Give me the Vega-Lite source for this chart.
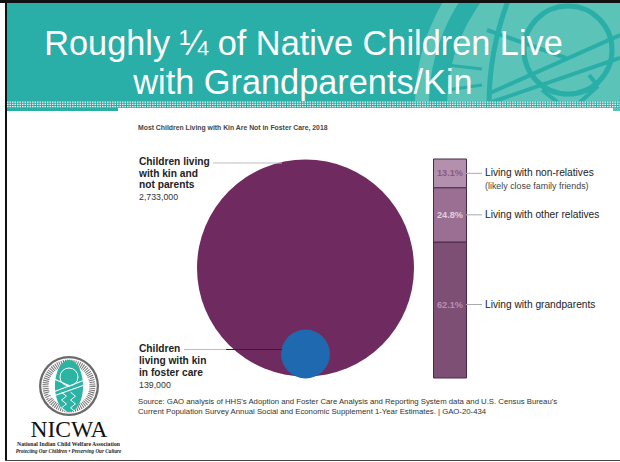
{"$schema":"https://vega.github.io/schema/vega-lite/v6.json","width":620,"height":462,"padding":0,"autosize":{"type":"none"},"background":"white","config":{"view":{"stroke":null},"axis":{"disable":true},"legend":{"disable":true}},"resolve":{"scale":{"y":"independent"}},"layer":[
{"data":{"values":[{}]},"layer":[
{"mark":{"type":"rect","color":"#29aea8"},"encoding":{"x":{"datum":7,"scale":{"domain":[0,620],"nice":false,"zero":false}},"x2":{"datum":620},"y":{"datum":3,"scale":{"domain":[462,0],"nice":false,"zero":false}},"y2":{"datum":111}}},
{"mark":{"type":"point","filled":true,"shape":"circle","color":"#5cc3b9","opacity":1},"encoding":{"x":{"datum":620},"y":{"datum":105},"size":{"value":168100}}},
{"mark":{"type":"point","filled":true,"shape":"circle","color":"#29aea8","opacity":1},"encoding":{"x":{"datum":620},"y":{"datum":105},"size":{"value":145924}}},
{"mark":{"type":"point","filled":true,"shape":"circle","color":"#5cc3b9","opacity":1},"encoding":{"x":{"datum":620},"y":{"datum":105},"size":{"value":119716}}},
{"mark":{"type":"point","filled":false,"shape":"circle","stroke":"#29aea8","strokeWidth":5,"opacity":1},"encoding":{"x":{"datum":785},"y":{"datum":105},"size":{"value":350464}}},
{"mark":{"type":"point","filled":false,"shape":"circle","stroke":"#29aea8","strokeWidth":5,"opacity":1},"encoding":{"x":{"datum":568},"y":{"datum":50},"size":{"value":7744}}},
{"mark":{"type":"rule","color":"#29aea8","strokeWidth":4},"encoding":{"x":{"datum":490},"x2":{"datum":620},"y":{"datum":93},"y2":{"datum":35}}},
{"mark":{"type":"rule","color":"#29aea8","strokeWidth":4},"encoding":{"x":{"datum":492},"x2":{"datum":620},"y":{"datum":102},"y2":{"datum":58}}},
{"mark":{"type":"rule","color":"#29aea8","strokeWidth":4},"encoding":{"x":{"datum":487},"x2":{"datum":566},"y":{"datum":30},"y2":{"datum":58}}},
{"mark":{"type":"rule","color":"#29aea8","strokeWidth":4},"encoding":{"x":{"datum":589},"x2":{"datum":598},"y":{"datum":75},"y2":{"datum":86}}},
{"mark":{"type":"rule","color":"#29aea8","strokeWidth":4},"encoding":{"x":{"datum":598},"x2":{"datum":578},"y":{"datum":86},"y2":{"datum":104}}},
{"mark":{"type":"rule","color":"#29aea8","strokeWidth":4},"encoding":{"x":{"datum":542},"x2":{"datum":560},"y":{"datum":90},"y2":{"datum":104}}},
{"mark":{"type":"rule","color":"#29aea8","strokeWidth":3},"encoding":{"x":{"datum":447},"x2":{"datum":482},"y":{"datum":65},"y2":{"datum":69}}},
{"mark":{"type":"rule","color":"#29aea8","strokeWidth":3},"encoding":{"x":{"datum":447},"x2":{"datum":482},"y":{"datum":90},"y2":{"datum":85}}},
{"mark":{"type":"rect","color":"white"},"encoding":{"x":{"datum":7},"x2":{"datum":620},"y":{"datum":108},"y2":{"datum":462}}},
{"mark":{"type":"rect","color":"#29aea8"},"encoding":{"x":{"datum":7},"x2":{"datum":118},"y":{"datum":108},"y2":{"datum":111}}},
{"mark":{"type":"rect","color":"#5cc3b9"},"encoding":{"x":{"datum":613},"x2":{"datum":620},"y":{"datum":108},"y2":{"datum":111}}},
{"mark":{"type":"rect","color":"#29aea8","opacity":0.75},"encoding":{"x":{"datum":7},"x2":{"datum":620},"y":{"datum":101},"y2":{"datum":108}}},
{"mark":{"type":"rule","color":"#e6f5f4","strokeWidth":1.2,"strokeDash":[1.5,1]},"encoding":{"x":{"datum":7},"x2":{"datum":620},"y":{"datum":102.2}}},
{"mark":{"type":"rule","color":"#e6f5f4","strokeWidth":1.2,"strokeDash":[1.5,1]},"encoding":{"x":{"datum":7},"x2":{"datum":620},"y":{"datum":104.4}}},
{"mark":{"type":"rule","color":"#e6f5f4","strokeWidth":1.2,"strokeDash":[1.5,1]},"encoding":{"x":{"datum":7},"x2":{"datum":620},"y":{"datum":106.6}}},
{"mark":{"type":"rect","color":"#111111"},"encoding":{"x":{"datum":0},"x2":{"datum":620},"y":{"datum":0},"y2":{"datum":3}}},
{"mark":{"type":"rect","color":"#111111"},"encoding":{"x":{"datum":5},"x2":{"datum":7},"y":{"datum":0},"y2":{"datum":461}}},
{"mark":{"type":"rect","color":"#444444"},"encoding":{"x":{"datum":5},"x2":{"datum":620},"y":{"datum":460},"y2":{"datum":461}}},
{"mark":{"type":"text","text":"Roughly ¼ of Native Children Live","font":"Liberation Sans","fontSize":34.3,"color":"white","align":"center","baseline":"alphabetic"},"encoding":{"x":{"datum":303.5},"y":{"datum":54.5}}},
{"mark":{"type":"text","text":"with Grandparents/Kin","font":"Liberation Sans","fontSize":34.3,"color":"white","align":"center","baseline":"alphabetic"},"encoding":{"x":{"datum":303},"y":{"datum":93.5}}},
{"mark":{"type":"text","text":"Most Children Living with Kin Are Not in Foster Care, 2018","font":"Liberation Sans","fontSize":6.85,"fontWeight":"bold","color":"#444444","align":"left","baseline":"middle"},"encoding":{"x":{"datum":138},"y":{"datum":128}}},
{"data":{"values":[{"group":"Children living with kin and not parents","children":2733000}]},"mark":{"type":"point","filled":true,"shape":"circle","color":"#6f2b5f","opacity":1},"encoding":{"x":{"datum":305.5},"y":{"datum":268},"size":{"field":"children","type":"quantitative","scale":{"domain":[0,2733000],"range":[0,47089]}}}},
{"data":{"values":[{"group":"Children living with kin in foster care","children":139000}]},"mark":{"type":"point","filled":true,"shape":"circle","color":"#1f69b0","opacity":1},"encoding":{"x":{"datum":305.5},"y":{"datum":354},"size":{"field":"children","type":"quantitative","scale":{"domain":[0,2733000],"range":[0,47089]}}}},
{"mark":{"type":"rule","color":"#bdbdbd","strokeWidth":1},"encoding":{"x":{"datum":213},"x2":{"datum":282},"y":{"datum":163}}},
{"mark":{"type":"rule","color":"#bdbdbd","strokeWidth":1},"encoding":{"x":{"datum":184},"x2":{"datum":226},"y":{"datum":349.5}}},
{"mark":{"type":"rule","color":"#3c1836","strokeWidth":1},"encoding":{"x":{"datum":226},"x2":{"datum":282},"y":{"datum":349.5}}},
{"mark":{"type":"text","text":["Children living","with kin and","not parents"],"lineHeight":11.7,"font":"Liberation Sans","fontSize":10.2,"fontWeight":"bold","color":"#222222","align":"left","baseline":"middle"},"encoding":{"x":{"datum":139},"y":{"datum":162}}},
{"mark":{"type":"text","text":"2,733,000","font":"Liberation Sans","fontSize":8.8,"color":"#333333","align":"left","baseline":"middle"},"encoding":{"x":{"datum":139},"y":{"datum":197}}},
{"mark":{"type":"text","text":["Children","living with kin","in foster care"],"lineHeight":12,"font":"Liberation Sans","fontSize":10.2,"fontWeight":"bold","color":"#222222","align":"left","baseline":"middle"},"encoding":{"x":{"datum":139},"y":{"datum":349}}},
{"mark":{"type":"text","text":"139,000","font":"Liberation Sans","fontSize":8.8,"color":"#333333","align":"left","baseline":"middle"},"encoding":{"x":{"datum":139},"y":{"datum":385}}},
{"mark":{"type":"text","text":"Source: GAO analysis of HHS's Adoption and Foster Care Analysis and Reporting System data and U.S. Census Bureau's","font":"Liberation Sans","fontSize":7.75,"color":"#333333","align":"left","baseline":"middle"},"encoding":{"x":{"datum":138},"y":{"datum":402.3}}},
{"mark":{"type":"text","text":"Current Population Survey Annual Social and Economic Supplement 1-Year Estimates.  |  GAO-20-434","font":"Liberation Sans","fontSize":7.75,"color":"#333333","align":"left","baseline":"middle"},"encoding":{"x":{"datum":138},"y":{"datum":411.7}}},
{"mark":{"type":"text","text":"(likely close family friends)","font":"Liberation Sans","fontSize":8.9,"color":"#444444","align":"left","baseline":"middle"},"encoding":{"x":{"datum":485},"y":{"datum":185.5}}},
{"mark":{"type":"point","filled":true,"shape":"circle","color":"#6a6a6a","opacity":1},"encoding":{"x":{"datum":69},"y":{"datum":386},"size":{"value":3600}}},
{"mark":{"type":"point","filled":true,"shape":"circle","color":"white","opacity":1},"encoding":{"x":{"datum":69},"y":{"datum":386},"size":{"value":3080}}},
{"mark":{"type":"point","filled":false,"shape":"circle","stroke":"#777777","strokeWidth":6,"strokeDash":[1,1],"opacity":1},"encoding":{"x":{"datum":69},"y":{"datum":386},"size":{"value":2200}}},
{"mark":{"type":"point","filled":true,"shape":"M0,-1C.3,-1 .54,-.55 .54,0C.54,.55 .3,1 0,1C-.3,1 -.54,.55 -.54,0C-.54,-.55 -.3,-1 0,-1Z","color":"#2bb3a3","opacity":1},"encoding":{"x":{"datum":69},"y":{"datum":386},"size":{"value":2704}}},
{"mark":{"type":"point","filled":false,"shape":"circle","stroke":"white","strokeWidth":1,"opacity":1},"encoding":{"x":{"datum":69},"y":{"datum":377},"size":{"value":324}}},
{"mark":{"type":"rule","color":"white","strokeWidth":1.2},"encoding":{"x":{"datum":48},"x2":{"datum":90},"y":{"datum":394},"y2":{"datum":378}}},
{"mark":{"type":"rule","color":"white","strokeWidth":1.2},"encoding":{"x":{"datum":48},"x2":{"datum":90},"y":{"datum":398},"y2":{"datum":383}}},
{"mark":{"type":"rule","color":"white","strokeWidth":1.2},"encoding":{"x":{"datum":52},"x2":{"datum":70},"y":{"datum":378},"y2":{"datum":386}}},
{"mark":{"type":"point","filled":false,"shape":"M-.25,-1L.25,-.6L-.25,-.2L.25,.2L-.25,.6L.25,1","stroke":"white","strokeWidth":1,"opacity":1},"encoding":{"x":{"datum":64},"y":{"datum":402},"size":{"value":380}}},
{"mark":{"type":"point","filled":false,"shape":"M-.25,-1L.25,-.6L-.25,-.2L.25,.2L-.25,.6L.25,1","stroke":"white","strokeWidth":1,"opacity":1},"encoding":{"x":{"datum":73},"y":{"datum":402},"size":{"value":380}}},
{"mark":{"type":"text","text":"NICWA","font":"Liberation Serif","fontSize":23.5,"color":"#111111","align":"center","baseline":"middle"},"encoding":{"x":{"datum":69},"y":{"datum":430}}},
{"mark":{"type":"text","text":"National Indian Child Welfare Association","font":"Liberation Serif","fontSize":5.7,"fontWeight":"bold","color":"#222222","align":"center","baseline":"middle"},"encoding":{"x":{"datum":68.5},"y":{"datum":444}}},
{"mark":{"type":"text","text":"Protecting Our Children • Preserving Our Culture","font":"Liberation Serif","fontSize":5.1,"fontStyle":"italic","fontWeight":"bold","color":"#222222","align":"center","baseline":"middle"},"encoding":{"x":{"datum":68.5},"y":{"datum":451}}}
]},
{"data":{"values":[{"category":"Living with grandparents","share":0.621,"order":1},{"category":"Living with other relatives","share":0.248,"order":2},{"category":"Living with non-relatives","share":0.131,"order":3}]},"transform":[{"stack":"share","groupby":[],"sort":[{"field":"order","order":"ascending"}],"as":["y0","y1"]},{"calculate":"datum.order==1 ? 0.3356 : (datum.y0+datum.y1)/2","as":"mid"}],"resolve":{"scale":{"color":"independent"}},"layer":[
{"mark":{"type":"rect","stroke":"#4a2a48","strokeWidth":1},"encoding":{"x":{"datum":433.5,"scale":{"domain":[0,620],"nice":false,"zero":false}},"x2":{"datum":466.5},"y":{"field":"y0","type":"quantitative","scale":{"domain":[-0.38356,1.72603],"nice":false,"zero":false}},"y2":{"field":"y1"},"color":{"field":"category","type":"nominal","scale":{"domain":["Living with grandparents","Living with other relatives","Living with non-relatives"],"range":["#7e4f75","#9a6f93","#b391ae"]}}}},
{"mark":{"type":"rule","color":"#aaaaaa","strokeWidth":1},"encoding":{"x":{"datum":466},"x2":{"datum":482},"y":{"field":"mid","type":"quantitative"}}},
{"mark":{"type":"text","font":"Liberation Sans","fontSize":9.2,"fontWeight":"bold","align":"center","baseline":"middle"},"encoding":{"x":{"datum":450},"y":{"field":"mid","type":"quantitative"},"text":{"field":"share","type":"quantitative","format":".1%"},"color":{"field":"category","type":"nominal","scale":{"domain":["Living with grandparents","Living with other relatives","Living with non-relatives"],"range":["#b690b0","#e0cfdd","#8a5a83"]}}}},
{"mark":{"type":"text","font":"Liberation Sans","fontSize":10.2,"color":"#222222","align":"left","baseline":"middle"},"encoding":{"x":{"datum":485},"y":{"field":"mid","type":"quantitative"},"text":{"field":"category","type":"nominal"}}}
]}
]}
